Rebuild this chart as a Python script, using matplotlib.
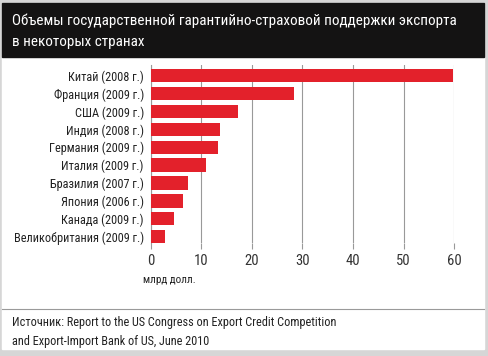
import matplotlib
matplotlib.use("Agg")
import matplotlib.pyplot as plt
from matplotlib.patches import Rectangle

# данные
countries = ["Китай (2008 г.)", "Франция (2009 г.)", "США (2009 г.)", "Индия (2008 г.)",
             "Германия (2009 г.)", "Италия (2009 г.)", "Бразилия (2007 г.)", "Япония (2006 г.)",
             "Канада (2009 г.)", "Великобритания (2009 г.)"]
values = [59.7, 28.3, 17.2, 13.8, 13.4, 10.9, 7.3, 6.3, 4.7, 2.8]
xticks = [0, 10, 20, 30, 40, 50, 60]

plt.rcParams['font.family'] = ['Roboto Condensed', 'DejaVu Sans']

W, H = 488, 356
fig = plt.figure(figsize=(W/100, H/100), dpi=100)
fig.patch.set_facecolor("#d6d6d6")

def px(x, y, w, h):
    # прямоугольник в пикселях (от верхнего левого угла)
    return (x/W, 1-(y+h)/H, w/W, h/H)

# белая подложка
b = px(2, 3, 482, 346)
fig.add_artist(Rectangle(b[:2], b[2], b[3], transform=fig.transFigure, color="white", zorder=0))
# тёмная шапка
t = px(2, 3, 482, 54)
fig.add_artist(Rectangle(t[:2], t[2], t[3], transform=fig.transFigure, color="#141313", zorder=1))
fig.text(12/W, 1-25/H, "Объемы государственной гарантийно-страховой поддержки экспорта",
         color="white", fontsize=10.9, va="baseline", ha="left")
fig.text(12/W, 1-46/H, "в некоторых странах", color="white", fontsize=10.9, va="baseline", ha="left")

# разделитель и источник
fig.add_artist(plt.Line2D([2/W, 484/W], [1-309/H, 1-309/H], transform=fig.transFigure,
                          color="#9a9a9a", lw=0.8))
fig.text(12/W, 1-326/H, "Источник: Report to the US Congress on Export Credit Competition",
         color="#222222", fontsize=8.8, va="baseline")
fig.text(12/W, 1-345/H, "and Export-Import Bank of US, June 2010",
         color="#222222", fontsize=8.8, va="baseline")

ax = fig.add_axes(px(150.7, 65, 303.4, 178.3))
ax.set_facecolor("none")
pos = list(range(len(countries)))
ax.barh(pos, values, height=0.75, color="#e3212b", zorder=3)
ax.set_ylim(len(countries) - 1 + 0.375, -0.6)
ax.set_xlim(0, 60)
ax.set_xticks(xticks)
ax.set_xticklabels([str(v) for v in xticks], fontsize=10.5, color="#333333")
ax.set_yticks(pos)
ax.set_yticklabels(countries, fontsize=8.8, color="#222222")
ax.tick_params(axis="y", length=0, pad=5)
ax.tick_params(axis="x", length=4, color="#999999", width=0.8, pad=4)
ax.grid(axis="x", color="#999999", lw=0.8, zorder=1)
for s in ["top", "right", "bottom"]:
    ax.spines[s].set_visible(False)
ax.spines["left"].set_color("#999999")
ax.spines["left"].set_linewidth(0.8)
fig.text(143/W, 1-283/H, "млрд долл.", fontsize=8, color="#222222", va="baseline")

fig.savefig("out.png", dpi=100, facecolor=fig.get_facecolor())
